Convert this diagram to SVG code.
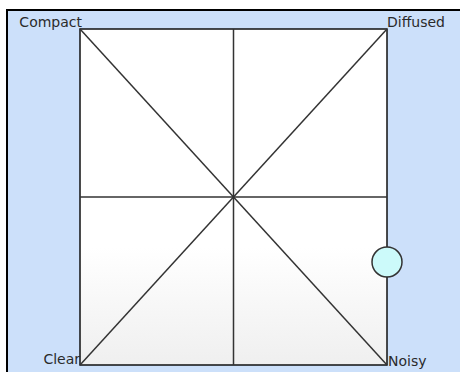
<svg xmlns="http://www.w3.org/2000/svg" width="460" height="372" viewBox="0 0 460 372">
  <defs>
    <linearGradient id="fillGrad" x1="0" y1="0" x2="0" y2="1">
      <stop offset="0" stop-color="#ffffff"/>
      <stop offset="0.65" stop-color="#ffffff"/>
      <stop offset="1" stop-color="#efefef"/>
    </linearGradient>
    <style>
      .lbl { font-family: "DejaVu Sans", "Liberation Sans", sans-serif; font-size: 14px; fill: #2a2a2a; }
      .grid { stroke: #333333; stroke-width: 1.5; fill: none; }
    </style>
  </defs>
  <rect x="0" y="0" width="460" height="372" fill="#ffffff"/>
  <rect x="7" y="10" width="453" height="362" fill="#cce0fa"/>
  <path d="M7 372 V10 H460" fill="none" stroke="#000000" stroke-width="2"/>
  <g id="quadrant">
    <rect x="80" y="29" width="307" height="336" fill="url(#fillGrad)" stroke="#111111" stroke-width="1.5"/>
  </g>
  <g id="connectors">
    <line class="grid" x1="80" y1="29" x2="387" y2="365"/>
    <line class="grid" x1="387" y1="29" x2="80" y2="365"/>
    <line class="grid" x1="233.5" y1="29" x2="233.5" y2="365"/>
    <line class="grid" x1="80" y1="197" x2="387" y2="197"/>
  </g>
  <g id="label-compact"><text class="lbl" x="82" y="27" text-anchor="end">Compact</text></g>
  <g id="label-diffused"><text class="lbl" x="387" y="27">Diffused</text></g>
  <g id="label-clear"><text class="lbl" x="80" y="364" text-anchor="end">Clear</text></g>
  <g id="label-noisy"><text class="lbl" x="388" y="366">Noisy</text></g>
  <g id="marker">
    <circle cx="387" cy="262" r="15" fill="#ccfafa" stroke="#333333" stroke-width="1.5"/>
  </g>
</svg>
